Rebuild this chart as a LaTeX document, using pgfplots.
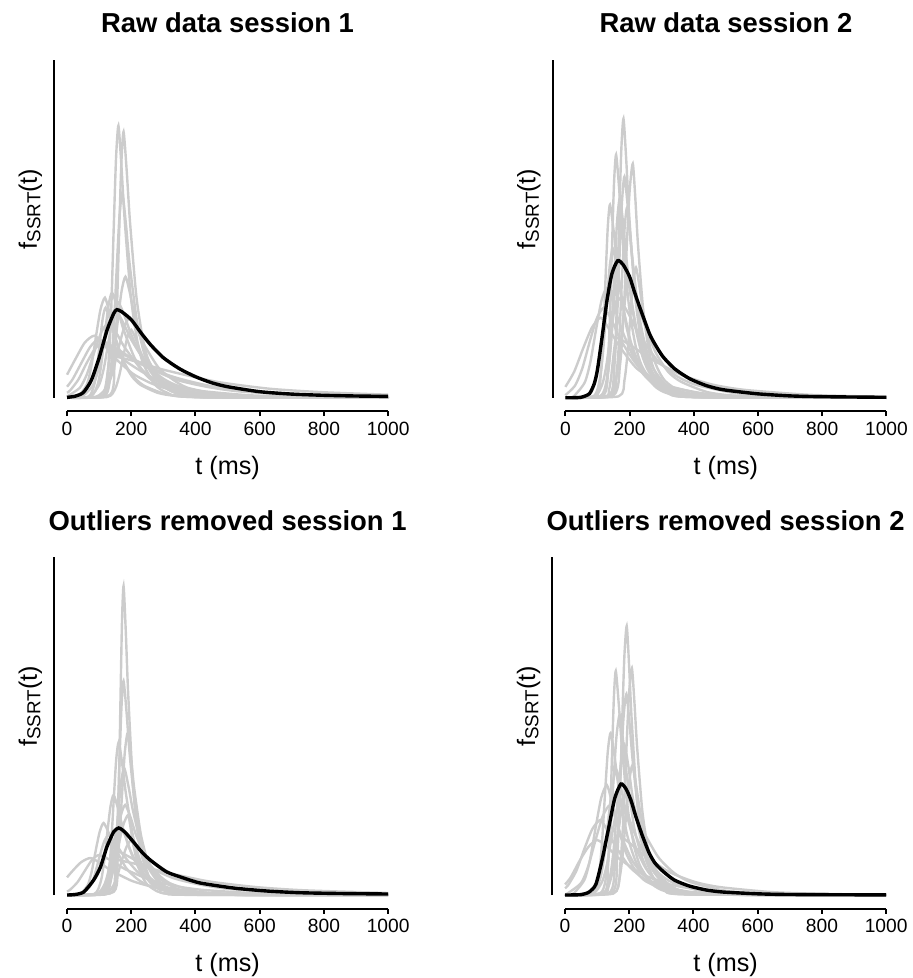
\documentclass[border=0pt]{standalone}
\usepackage{pgfplots}
\pgfplotsset{compat=1.18}
\usepackage{fontspec}
\setmainfont{Liberation Sans}
\definecolor{curvegray}{RGB}{204,204,204}
\newcommand{\ticksize}{\fontsize{9.6pt}{11pt}\selectfont}
\newcommand{\labsize}{\fontsize{12.6pt}{14pt}\selectfont}
\newcommand{\subsize}{\fontsize{9.4pt}{10pt}\selectfont}
\newcommand{\titsize}{\fontsize{13.7pt}{16pt}\selectfont\bfseries}
\pgfplotsset{
  panel/.style={
    scale only axis, width=173.4pt, height=182.5pt,
    xmin=-40, xmax=1040, ymin=-13.5, ymax=351.5,
    axis x line*=bottom, axis y line*=left,
    axis line style={draw=none},
    xtick={0,200,400,600,800,1000},
    xticklabels={0,200,400,600,800,1000},
    ytick=\empty,
    tick align=outside, major tick length=2.5pt,
    tick style={black, line width=1pt},
    xticklabel style={font=\ticksize, inner sep=0pt, anchor=north, yshift=-2.75pt},
    clip=false,
    title style={font=\titsize, at={(axis description cs:0.5,1.004)}, anchor=base, inner sep=0pt},
    xlabel={t (ms)},
    xlabel style={font=\labsize, at={(axis description cs:0.5,-0.173)}, anchor=base, inner sep=0pt},
    ylabel={f{\subsize\raisebox{-0.35ex}{SSRT}}(t)},
    ylabel style={font=\labsize, at={(axis description cs:-0.0496,0.554)}, anchor=base, inner sep=0pt},
  },
  gc/.style={color=curvegray, line width=1.2pt, smooth, tension=0.4, mark=none},
  bc/.style={black, line width=1.7pt, smooth, tension=0.4, mark=none},
}
\newcommand{\axlines}{%
  \draw[line width=1pt] (axis cs:-40,0) -- (axis cs:-40,338);
  \draw[line width=1pt] (axis cs:0,-13.5) -- (axis cs:1000,-13.5);}
\begin{document}
\begin{tikzpicture}
\path[use as bounding box] (0,0) rectangle (456pt,-489pt);

% ---------------- Panel 1 ----------------
\begin{axis}[panel, at={(27.1pt,-205.6pt)}, anchor=south west, title={Raw data session 1}]
\addplot[gc] coordinates {(0,0)(115,3)(130,37)(137.5,87)(145,166)(152.5,239)(160,272)(169.5,231)(179,180)(198,103)(217,60)(236,35)(274,13)(312,5)(388,0.7)(1000,0)};
\addplot[gc] coordinates {(0,0)(134,3)(148,36)(155,85)(162,162)(169,234)(176,266)(186,226)(196,176)(216,101)(236,59)(256,35)(296,13)(336,5)(416,0.7)(1000,0)};
\addplot[gc] coordinates {(0,0)(118,2)(136,28)(145,66)(154,125)(163,180)(172,205)(183.25,174)(194.5,135)(217,78)(239.5,45)(262,27)(307,10)(352,3.7)(442,0.5)(1000,0)};
\addplot[gc] coordinates {(0,0)(107,1.3)(132,16)(144.5,39)(157,74)(169.5,106)(182,121)(197,103)(212,80)(242,46)(272,27)(302,16)(362,5.8)(422,2.2)(542,0.3)(1000,0)};
\addplot[gc] coordinates {(0,0)(74,1.2)(96,14)(107,34)(118,64)(129,92)(140,105)(157.5,89)(175,69)(210,40)(245,23)(280,14)(350,5)(420,1.9)(560,0.3)(1000,0)};
\addplot[gc] coordinates {(0,0)(34,1.1)(62,13.5)(76,32)(90,61)(104,88)(118,100)(132,85)(145.5,66)(173,38)(200.5,22)(228,13)(283,4.8)(338,1.8)(448,0.25)(1000,0)};
\addplot[gc] coordinates {(0,0)(70,1)(100,13)(115,30)(130,58)(145,84)(160,95)(180,81)(200,63)(240,36)(280,21)(320,12)(400,4.6)(480,1.7)(640,0.2)(1000,0)};
\addplot[gc] coordinates {(0,23)(25,38)(55,55)(85,62)(115,53)(145,41)(205,24)(265,14)(325,8)(445,3)(565,1.1)(805,0.15)(1000,0.05)};
\addplot[gc] coordinates {(0,4.9)(10,7.4)(35,18)(60,34)(85,48)(110,55)(147.5,47)(185,36)(260,21)(335,12)(410,7)(560,2.6)(710,1)(1000,0.2)};
\addplot[gc] coordinates {(0,0)(111,0.5)(119,5.7)(123,13)(127,26)(131,37)(135,42)(217.5,36)(300,28)(465,16)(630,9)(795,5.5)(1000,3)};
\addplot[gc] coordinates {(0,0)(104,0.5)(116,6.5)(122,15)(128,29)(134,42)(140,48)(190,41)(240,32)(340,18)(440,10.6)(540,6.2)(740,2.3)(940,0.9)(1000,0.7)};
\addplot[gc] coordinates {(0,0)(90,0.9)(125,11)(142.5,26)(160,49)(177.5,70)(195,80)(217.5,68)(240,53)(285,30)(330,18)(375,10)(465,3.8)(555,1.4)(735,0.2)(1000,0)};
\addplot[gc] coordinates {(0,0)(125,0.7)(150,9)(162.5,22)(175,41)(187.5,60)(200,68)(215,58)(230,45)(260,26)(290,15)(320,9)(380,3.3)(440,1.2)(560,0.2)(1000,0)};
\addplot[gc] coordinates {(0,1.2)(40,10)(62.5,24)(85,46)(107.5,66)(130,75)(155,64)(180,50)(230,29)(280,16.5)(330,10)(430,3.6)(530,1.4)(730,0.2)(1000,0)};
\addplot[gc] coordinates {(0,0)(45,1)(80,12)(97.5,28)(115,54)(132.5,77)(150,88)(175,75)(200,58)(250,33)(300,19)(350,11.4)(450,4.2)(550,1.6)(750,0.2)(1000,0)};
\addplot[gc] coordinates {(0,0)(66,1)(84,12)(93,29)(102,55)(111,79)(120,90)(135,77)(150,59)(180,34)(210,20)(240,12)(300,4.3)(360,1.6)(480,0.2)(1000,0)};
\addplot[gc] coordinates {(0,11)(17.5,18.5)(45,35)(72.5,51)(100,58)(155,49)(210,38)(320,22)(430,12.8)(540,7.5)(760,2.8)(980,1)(1000,0.9)};
\addplot[bc] coordinates {(0,0.3)(25,1.5)(50,5)(75,17)(100,40)(125,68)(145,84)(155,88)(170,86)(200,78)(230,65)(260,53)(300,40)(350,29)(400,21)(450,15)(500,11)(600,6)(700,3.6)(800,2.4)(900,1.7)(1000,1.3)};
\axlines
\end{axis}

% ---------------- Panel 2 ----------------
\begin{axis}[panel, at={(276.25pt,-205.6pt)}, anchor=south west, title={Raw data session 2}]
\addplot[gc] coordinates {(0,0)(139,3)(153,38)(160,89)(167,170)(174,246)(181,279)(189.75,237)(198.5,184)(216,106)(233.5,61)(251,36)(286,13.4)(321,5)(391,0.7)(1000,0)};
\addplot[gc] coordinates {(0,0)(119,2.7)(132,33)(138.5,78)(145,148)(151.5,214)(158,243)(168,207)(178,160)(198,92)(218,53)(238,32)(278,11.7)(318,4.4)(398,0.6)(1000,0)};
\addplot[gc] coordinates {(0,0)(150,2.6)(170,32)(180,75)(190,143)(200,206)(210,234)(218,199)(226,154)(242,89)(258,51)(274,30)(306,11)(338,4.2)(402,0.6)(1000,0)};
\addplot[gc] coordinates {(0,0)(136,2.4)(152,30)(160,71)(168,135)(176,194)(184,221)(195.25,188)(206.5,146)(229,84)(251.5,49)(274,29)(319,10.6)(364,4)(454,0.55)(1000,0)};
\addplot[gc] coordinates {(0,0)(97,2.1)(111,26)(118,62)(125,118)(132,170)(139,193)(151.5,164)(164,127)(189,73)(214,42)(239,25)(289,9.3)(339,3.5)(439,0.5)(1000,0)};
\addplot[gc] coordinates {(0,0)(116,2.2)(134,27)(143,64)(152,122)(161,176)(170,200)(181.25,170)(192.5,132)(215,76)(237.5,44)(260,26)(305,9.6)(350,3.6)(440,0.5)(1000,0)};
\addplot[gc] coordinates {(0,0)(144,2.1)(160,26)(168,61)(176,116)(184,167)(192,190)(202,162)(212,125)(232,72)(252,42)(272,25)(312,9.1)(352,3.4)(432,0.5)(1000,0)};
\addplot[gc] coordinates {(0,0)(88,1.6)(108,20)(118,48)(128,91)(138,131)(148,149)(161.75,127)(175.5,98)(203,57)(230.5,33)(258,19)(313,7.2)(368,2.7)(478,0.4)(1000,0)};
\addplot[gc] coordinates {(0,0)(109,1.8)(131,22)(142,53)(153,101)(164,145)(175,165)(187.5,140)(200,109)(225,63)(250,36)(275,21)(325,7.9)(375,3)(475,0.4)(1000,0)};
\addplot[gc] coordinates {(0,0.1)(25,1.2)(60,15)(77.5,35)(95,67)(112.5,97)(130,110)(150,94)(170,73)(210,42)(250,24)(290,14)(370,5.3)(450,2)(610,0.3)(1000,0)};
\addplot[gc] coordinates {(0,2.5)(30,12)(52.5,29)(75,55)(97.5,79)(120,90)(145,77)(170,59)(220,34)(270,20)(320,12)(420,4.3)(520,1.6)(720,0.2)(1000,0)};
\addplot[gc] coordinates {(0,10.8)(27.5,26)(55,49)(82.5,70)(110,80)(137.5,68)(165,53)(220,30)(275,18)(330,10.4)(440,3.8)(550,1.4)(770,0.2)(1000,0)};
\addplot[gc] coordinates {(0,0)(134,1.3)(156,16)(167,38)(178,73)(189,106)(200,120)(220,102)(240,79)(280,46)(320,26)(360,16)(440,5.8)(520,2.2)(680,0.3)(1000,0)};
\addplot[gc] coordinates {(0,0)(124,0.7)(136,8)(142,19)(148,37)(154,53)(160,60)(210,51)(260,40)(360,23)(460,13)(560,7.8)(760,2.9)(960,1.1)(1000,0.9)};
\addplot[gc] coordinates {(0,0)(90,1.1)(115,13.5)(127.5,32)(140,61)(152.5,88)(165,100)(195,85)(225,66)(285,38)(345,22)(405,13)(525,4.8)(645,1.8)(885,0.25)(1000,0.1)};
\addplot[gc] coordinates {(0,0)(166,1.4)(184,17.5)(193,42)(202,79)(211,114)(220,130)(231.25,110)(242.5,86)(265,49)(287.5,29)(310,17)(355,6.2)(400,2.3)(490,0.3)(1000,0)};
\addplot[bc] coordinates {(0,0)(25,0)(50,0.5)(75,4)(90,14)(100,28)(115,62)(130,98)(145,124)(163,137)(180,133)(200,121)(215,106)(231,91)(262,64)(280,53)(304,41)(340,29)(387,19)(440,12)(491,8)(595,4)(700,1.8)(800,1)(1000,0.4)};
\axlines
\end{axis}

% ---------------- Panel 3 ----------------
\begin{axis}[panel, at={(27.1pt,-454.25pt)}, anchor=south west, title={Outliers removed session 1}]
\addplot[gc] coordinates {(0,0)(146,3.4)(156,42)(161,99)(166,188)(171,272)(176,309)(183,263)(190,204)(204,117)(218,68)(232,40)(260,15)(288,5.6)(344,0.8)(1000,0)};
\addplot[gc] coordinates {(0,0)(137,2.4)(150,29)(156.5,68)(163,131)(169.5,188)(176,214)(185.5,182)(195,141)(214,81)(233,47)(252,28)(290,10.3)(328,3.9)(404,0.5)(1000,0)};
\addplot[gc] coordinates {(0,0)(135,1.8)(153,22)(162,52)(171,99)(180,143)(189,162)(199,138)(209,107)(229,62)(249,36)(269,21)(309,7.8)(349,2.9)(429,0.4)(1000,0)};
\addplot[gc] coordinates {(0,0)(113,1.7)(129,21)(137,49)(145,93)(153,135)(161,153)(172.25,130)(183.5,101)(206,58)(228.5,34)(251,20)(296,7.3)(341,2.8)(431,0.4)(1000,0)};
\addplot[gc] coordinates {(0,0)(118,1.4)(138,17)(148,41)(158,77)(168,112)(178,127)(191.75,108)(205.5,84)(233,48)(260.5,28)(288,16.5)(343,6.1)(398,2.3)(508,0.3)(1000,0)};
\addplot[gc] coordinates {(0,0)(85,1.1)(105,13.5)(115,32)(125,61)(135,88)(145,100)(160,85)(175,66)(205,38)(235,22)(265,13)(325,4.8)(385,1.8)(505,0.25)(1000,0)};
\addplot[gc] coordinates {(0,0)(97,1)(125,12)(139,29)(153,55)(167,79)(181,90)(198.5,77)(216,59)(251,34)(286,20)(321,11.7)(391,4.3)(461,1.6)(601,0.2)(1000,0)};
\addplot[gc] coordinates {(0,0)(39,0.8)(64,9.7)(76.5,23)(89,44)(101.5,63)(114,72)(131.5,61)(149,48)(184,27)(219,16)(254,9.4)(324,3.5)(394,1.3)(534,0.2)(1000,0)};
\addplot[gc] coordinates {(0,17.6)(13,22.6)(43,32.6)(73,37)(105.5,31.5)(138,24.4)(203,14)(268,8.1)(333,4.8)(463,1.8)(593,0.7)(853,0.1)(1000,0)};
\addplot[gc] coordinates {(0,0)(116,0.4)(124,4.9)(128,11.5)(132,22)(136,32)(140,36)(215,31)(290,24)(440,13.7)(590,7.9)(740,4.7)(1000,2)};
\addplot[gc] coordinates {(0,0)(105,0.5)(120,6)(127.5,14.4)(135,27)(142.5,40)(150,45)(195,38)(240,30)(330,17)(420,10)(510,5.9)(690,2.2)(870,0.8)(1000,0.4)};
\addplot[gc] coordinates {(0,0)(100,0.9)(130,11)(145,26)(160,49)(175,70)(190,80)(197.5,68)(205,53)(220,30)(235,18)(250,10.4)(280,3.8)(310,1.4)(370,0.2)(1000,0)};
\addplot[gc] coordinates {(0,3.4)(10,5.4)(32.5,12.8)(55,24)(77.5,35)(100,40)(140,34)(180,26)(260,15)(340,8.8)(420,5.2)(580,1.9)(740,0.7)(1000,0.2)};
\addplot[gc] coordinates {(0,0)(40,0.7)(70,8)(85,19)(100,37)(115,53)(130,60)(152.5,51)(175,40)(220,23)(265,13)(310,7.8)(400,2.9)(490,1.1)(670,0.15)(1000,0)};
\addplot[gc] coordinates {(0,0)(90,0.8)(115,9.5)(127.5,22)(140,43)(152.5,62)(165,70)(180,60)(195,46)(225,27)(255,15.4)(285,9.1)(345,3.4)(405,1.3)(525,0.2)(1000,0)};
\addplot[gc] coordinates {(0,0)(110,0.6)(140,7.4)(155,17.6)(170,34)(185,48)(200,55)(210,47)(220,36)(240,21)(260,12)(280,7.2)(320,2.6)(360,1)(440,0.1)(1000,0)};
\addplot[bc] coordinates {(0,0)(25,0.5)(52,3)(83,15)(104,28)(124,48)(145,63)(161,67)(180,63)(207,53)(230,44)(259,35)(311,23)(363,17)(415,12)(518,7)(622,4)(725,2.3)(850,1.5)(1000,1)};
\axlines
\end{axis}

% ---------------- Panel 4 ----------------
\begin{axis}[panel, at={(276.1pt,-454.25pt)}, anchor=south west, title={Outliers removed session 2}]
\addplot[gc] coordinates {(0,0)(147,3)(162,36)(169.5,86)(177,164)(184.5,237)(192,269)(199.5,229)(207,178)(222,102)(237,59)(252,35)(282,13)(312,4.8)(372,0.7)(1000,0)};
\addplot[gc] coordinates {(0,0)(122,2.5)(134,30)(140,72)(146,137)(152,197)(158,224)(167.5,190)(177,148)(196,85)(215,49)(234,29)(272,10.8)(310,4)(386,0.6)(1000,0)};
\addplot[gc] coordinates {(0,0)(154,2.5)(172,31)(181,73)(190,138)(199,200)(208,227)(216,193)(224,150)(240,86)(256,50)(272,30)(304,10.9)(336,4.1)(400,0.6)(1000,0)};
\addplot[gc] coordinates {(0,0)(137,2.2)(155,27)(164,64)(173,123)(182,177)(191,201)(201,171)(211,133)(231,76)(251,44)(271,26)(311,9.6)(351,3.6)(431,0.5)(1000,0)};
\addplot[gc] coordinates {(0,0)(110,2)(130,24)(140,58)(150,110)(160,158)(170,180)(181.25,153)(192.5,119)(215,68)(237.5,40)(260,23)(305,8.6)(350,3.2)(440,0.45)(1000,0)};
\addplot[gc] coordinates {(0,0)(88,1.8)(106,22)(115,52)(124,99)(133,143)(142,162)(154.5,138)(167,107)(192,62)(217,36)(242,21)(292,7.8)(342,2.9)(442,0.4)(1000,0)};
\addplot[gc] coordinates {(0,0)(119,1.6)(141,20)(152,48)(163,92)(174,132)(185,150)(197.5,128)(210,99)(235,57)(260,33)(285,19.5)(335,7.2)(385,2.7)(485,0.4)(1000,0)};
\addplot[gc] coordinates {(0,0)(85,1.4)(110,17)(122.5,40)(135,76)(147.5,110)(160,125)(175,106)(190,83)(220,48)(250,27.5)(280,16)(340,6)(400,2.3)(520,0.3)(1000,0)};
\addplot[gc] coordinates {(0,0.1)(25,1.2)(60,15)(77.5,35)(95,67)(112.5,97)(130,110)(145,94)(160,73)(190,42)(220,24)(250,14)(310,5.3)(370,2)(490,0.3)(1000,0)};
\addplot[gc] coordinates {(0,6.7)(10,10)(35,24)(60,46)(85,66)(110,75)(132.5,64)(155,50)(200,28.5)(245,16.5)(290,9.8)(380,3.6)(470,1.4)(650,0.2)(1000,0)};
\addplot[gc] coordinates {(0,0.7)(5,1)(50,12)(72.5,29)(95,55)(117.5,79)(140,90)(157.5,77)(175,59)(210,34)(245,20)(280,11.7)(350,4.3)(420,1.6)(560,0.2)(1000,0)};
\addplot[gc] coordinates {(0,0)(115,1.1)(140,13.5)(152.5,32)(165,61)(177.5,88)(190,100)(215,85)(240,66)(290,38)(340,22)(390,13)(490,4.8)(590,1.8)(790,0.25)(1000,0)};
\addplot[gc] coordinates {(0,0)(120,0.7)(135,8)(142.5,19)(150,37)(157.5,53)(165,60)(205,51)(245,40)(325,23)(405,13)(485,7.8)(645,2.9)(805,1.1)(1000,0.3)};
\addplot[gc] coordinates {(0,10.5)(17.5,17.6)(45,34)(72.5,48)(100,55)(135,47)(170,36)(240,21)(310,12)(380,7.2)(520,2.6)(660,1)(940,0.14)(1000,0.1)};
\addplot[gc] coordinates {(0,0)(150,1.4)(170,17.5)(180,42)(190,79)(200,114)(210,130)(221.25,110)(232.5,86)(255,49)(277.5,29)(300,17)(345,6.2)(390,2.3)(480,0.3)(1000,0)};
\addplot[gc] coordinates {(0,0)(85,1)(115,13)(130,30)(145,58)(160,84)(175,95)(195,81)(215,63)(255,36)(295,21)(335,12.4)(415,4.6)(495,1.7)(655,0.24)(1000,0)};
\addplot[bc] coordinates {(0,0)(50,0.4)(75,3)(96,10.7)(116,36)(137,69)(155,97)(174,111)(190,106)(205,95)(220,79)(240,60)(262,42)(280,32)(304,24)(340,15)(387,9)(440,5)(491,3)(600,1.2)(700,0.5)(1000,0.1)};
\axlines
\end{axis}
\end{tikzpicture}
\end{document}
